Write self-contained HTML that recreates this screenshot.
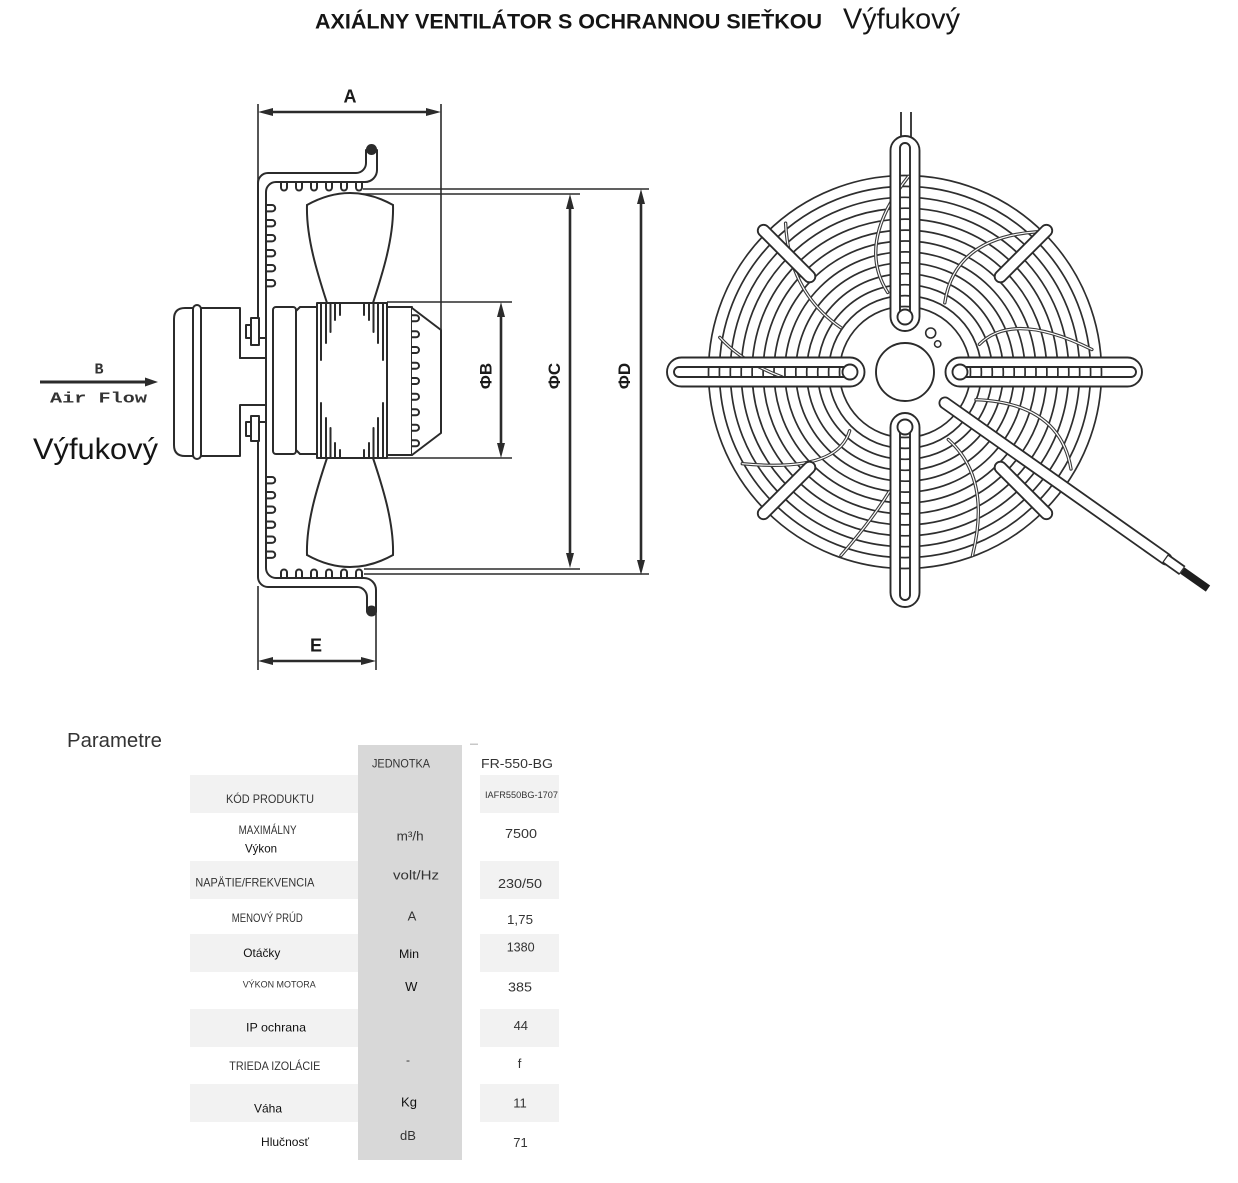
<!DOCTYPE html>
<html><head><meta charset="utf-8"><style>
html,body{margin:0;padding:0;background:#fff;}
svg{display:block;}
</style></head><body>
<svg width="1238" height="1183" viewBox="0 0 1238 1183" xmlns="http://www.w3.org/2000/svg" font-family="'Liberation Sans', Arial, sans-serif">
<rect x="0" y="0" width="1238" height="1183" fill="#fff"/>

<!-- TITLE -->
<text x="315" y="28.5" font-size="21" font-weight="bold" fill="#151515" textLength="507" lengthAdjust="spacingAndGlyphs">AXIÁLNY VENTILÁTOR S OCHRANNOU SIEŤKOU</text>
<text x="843" y="28.5" font-size="29" fill="#151515" textLength="117" lengthAdjust="spacingAndGlyphs">Výfukový</text>

<!-- ============ SIDE VIEW ============ -->
<!-- extension lines -->
<g fill="none" stroke="#2b2b2b" stroke-width="1.6">
  <line x1="258" y1="104" x2="258" y2="184"/>
  <line x1="441" y1="104" x2="441" y2="330"/>
  <line x1="258" y1="586" x2="258" y2="670"/>
  <line x1="376" y1="610" x2="376" y2="670"/>
  <path d="M363,189 H649 M363,194 H580 M364,569 H580 M364,574 H649"/>
  <path d="M387,302 H512 M387,458 H512"/>
</g>

<!-- dimension lines -->
<g stroke="#2b2b2b" stroke-width="2.6" fill="none">
  <line x1="270" y1="112" x2="429" y2="112"/>
  <line x1="270" y1="661" x2="364" y2="661"/>
  <line x1="501" y1="314" x2="501" y2="446"/>
  <line x1="570" y1="206" x2="570" y2="556"/>
  <line x1="641" y1="201" x2="641" y2="563"/>
  <line x1="40" y1="382" x2="147" y2="382" stroke-width="3"/>
</g>
<g fill="#2b2b2b">
  <polygon points="258,112 273,108 273,116"/>
  <polygon points="441,112 426,108 426,116"/>
  <polygon points="258,661 273,657 273,665"/>
  <polygon points="376,661 361,657 361,665"/>
  <polygon points="501,302 497,317 505,317"/>
  <polygon points="501,458 497,443 505,443"/>
  <polygon points="570,194 566,209 574,209"/>
  <polygon points="570,568 566,553 574,553"/>
  <polygon points="641,189 637,204 645,204"/>
  <polygon points="641,575 637,560 645,560"/>
  <polygon points="158,382 145,377.5 145,386.5"/>
</g>

<!-- dimension labels -->
<g font-weight="bold" fill="#1a1a1a" text-anchor="middle">
  <text x="350" y="102.5" font-size="18">A</text>
  <text x="316" y="651.5" font-size="18">E</text>
  <text transform="translate(491.5,376) rotate(-90)" font-size="17">ΦB</text>
  <text transform="translate(560,376) rotate(-90)" font-size="17">ΦC</text>
  <text transform="translate(630,376) rotate(-90)" font-size="17">ΦD</text>
</g>

<!-- air flow -->
<text x="99" y="373.5" font-family="'Liberation Mono', monospace" font-weight="bold" font-size="15" fill="#333" text-anchor="middle">B</text>
<text x="50" y="402.5" font-family="'Liberation Mono', monospace" font-weight="bold" font-size="15" fill="#333" textLength="97" lengthAdjust="spacingAndGlyphs">Air Flow</text>
<text x="33" y="459" font-size="30" fill="#151515" textLength="125" lengthAdjust="spacingAndGlyphs">Výfukový</text>

<g fill="none" stroke="#2b2b2b" stroke-width="2" stroke-linejoin="round" stroke-linecap="round">
  <!-- frame outer contour -->
  <path d="M366,150 V163 A10,10 0 0 1 356,173 H268 A10,10 0 0 0 258,183 V318"/>
  <path d="M258,441 V577 A10,10 0 0 0 268,587 H357 A10,10 0 0 1 367,597 V611"/>
  <!-- frame inner contour -->
  <path d="M377,150 V170 A12,12 0 0 1 365,182 H276 A10,10 0 0 0 266,192 V568 A10,10 0 0 0 276,578 H364 A12,12 0 0 1 376,590 V611"/>

  <!-- fins top -->
  <path d="M281,182 V187.5 a3,3 0 0 0 6,0 V182 M296,182 V187.5 a3,3 0 0 0 6,0 V182 M311,182 V187.5 a3,3 0 0 0 6,0 V182 M326,182 V187.5 a3,3 0 0 0 6,0 V182 M341,182 V187.5 a3,3 0 0 0 6,0 V182 M356,182 V187.5 a3,3 0 0 0 6,0 V182"/>
  <!-- fins bottom -->
  <path d="M281,578 V572.5 a3,3 0 0 1 6,0 V578 M296,578 V572.5 a3,3 0 0 1 6,0 V578 M311,578 V572.5 a3,3 0 0 1 6,0 V578 M326,578 V572.5 a3,3 0 0 1 6,0 V578 M341,578 V572.5 a3,3 0 0 1 6,0 V578 M356,578 V572.5 a3,3 0 0 1 6,0 V578"/>
  <!-- fins left upper -->
  <path d="M266,205 H272 a3.2,3.2 0 0 1 0,6.4 H266 M266,220 H272 a3.2,3.2 0 0 1 0,6.4 H266 M266,235 H272 a3.2,3.2 0 0 1 0,6.4 H266 M266,250 H272 a3.2,3.2 0 0 1 0,6.4 H266 M266,265 H272 a3.2,3.2 0 0 1 0,6.4 H266 M266,280 H272 a3.2,3.2 0 0 1 0,6.4 H266"/>
  <!-- fins left lower -->
  <path d="M266,477 H272 a3.2,3.2 0 0 1 0,6.4 H266 M266,492 H272 a3.2,3.2 0 0 1 0,6.4 H266 M266,506.5 H272 a3.2,3.2 0 0 1 0,6.4 H266 M266,521.5 H272 a3.2,3.2 0 0 1 0,6.4 H266 M266,536.5 H272 a3.2,3.2 0 0 1 0,6.4 H266 M266,551.5 H272 a3.2,3.2 0 0 1 0,6.4 H266"/>

  <!-- motor -->
  <path d="M240,358 V308 H185 Q174,308 174,319 V445 Q174,456 185,456 H240 V405 H266"/>
  <path d="M240,358 H266"/>
  <rect x="193" y="305" width="8" height="154" rx="4" fill="#fff"/>
  <!-- bolts -->
  <rect x="251" y="318" width="8" height="27" fill="#fff"/>
  <rect x="246" y="325" width="5" height="13" fill="#fff"/>
  <rect x="251" y="416" width="8" height="25" fill="#fff"/>
  <rect x="246" y="422" width="5" height="14" fill="#fff"/>
  <path d="M259,338 H266 M259,422 H266"/>

  <!-- blades -->
  <path d="M307,205 Q350,181 393,205"/>
  <path d="M307,205 C306,238 318,275 327,303"/>
  <path d="M393,205 C394,238 382,275 373,303"/>
  <path d="M307,555 Q350,579 393,555"/>
  <path d="M307,555 C306,522 318,485 327,458"/>
  <path d="M393,555 C394,522 382,485 373,458"/>

  <!-- rotor parts -->
  <rect x="273" y="307" width="23" height="147" rx="3" fill="#fff"/>
  <path d="M300,307 H317 V454 H300 L296,450 V311 Z" fill="#fff"/>
  <rect x="317" y="303" width="70" height="155" fill="#fff"/>
  <rect x="387" y="307" width="25" height="148" fill="#fff"/>
  <path d="M412,308 L441,330 V433 L412,455" fill="#fff"/>
  <!-- end cap fins -->
  <path d="M412,315.3 H416 a3,3 0 0 1 0,6 H412 M412,331.3 H416 a3,3 0 0 1 0,6 H412 M412,347 H416 a3,3 0 0 1 0,6 H412 M412,362.7 H416 a3,3 0 0 1 0,6 H412 M412,378 H416 a3,3 0 0 1 0,6 H412 M412,393.7 H416 a3,3 0 0 1 0,6 H412 M412,409.3 H416 a3,3 0 0 1 0,6 H412 M412,424.7 H416 a3,3 0 0 1 0,6 H412 M412,440.3 H416 a3,3 0 0 1 0,6 H412"/>
  <!-- hub hatch lines -->
  <path d="M321,303 V360 M326,303 V343 M330.5,303 V332 M335,303 V320 M340,303 V315 M383,303 V360 M378,303 V343 M373.5,303 V332 M369,303 V320 M364,303 V315"/>
  <path d="M321,458 V403 M326,458 V418 M330.5,458 V428 M335,458 V443 M340,458 V450 M383,458 V403 M378,458 V418 M373.5,458 V428 M369,458 V443 M364,458 V450"/>
</g>
<circle cx="371.5" cy="149.5" r="5.5" fill="#2b2b2b"/>
<circle cx="371.5" cy="611" r="5.5" fill="#2b2b2b"/>

<!-- ============ FRONT VIEW ============ -->
<!-- cable stubs top -->
<path d="M901,112 V137 M911,112 V137" stroke="#2b2b2b" stroke-width="1.8" fill="none"/>
<!-- rings -->
<g fill="none" stroke="#2e2e2e" stroke-width="1.7">
  <circle cx="905" cy="372" r="65.5"/>
  <circle cx="905" cy="372" r="76.4"/>
  <circle cx="905" cy="372" r="87.3"/>
  <circle cx="905" cy="372" r="98.3"/>
  <circle cx="905" cy="372" r="109.2"/>
  <circle cx="905" cy="372" r="120.1"/>
  <circle cx="905" cy="372" r="131"/>
  <circle cx="905" cy="372" r="141.9"/>
  <circle cx="905" cy="372" r="152.9"/>
  <circle cx="905" cy="372" r="163.8"/>
  <circle cx="905" cy="372" r="174.7"/>
  <circle cx="905" cy="372" r="185.6"/>
  <circle cx="905" cy="372" r="196.5"/>
</g>
<!-- blades (thin double lines) -->
<g fill="none" stroke-linecap="round">
  <g stroke="#3a3a3a" stroke-width="3.4">
    <path d="M908.5,176.4 Q855.9,243 887.7,292.4"/>
    <path d="M785.6,223.2 Q788.7,291.9 841,327.8"/>
    <path d="M1036.5,231.8 Q954.3,237.9 944.8,302.8"/>
    <path d="M979.4,344.3 Q1013.2,310.5 1091.9,349.5"/>
    <path d="M719.8,337.4 Q742,362 782,377"/>
    <path d="M976,399.7 Q1059.9,403 1071,469"/>
    <path d="M948.3,439.5 Q991.6,478.5 972.5,555.5"/>
    <path d="M849.6,430.8 Q837.5,472.8 742.3,463.7"/>
    <path d="M889.4,491.4 Q872,520 841,555.5"/>
  </g>
  <g stroke="#fff" stroke-width="1.2">
    <path d="M908.5,176.4 Q855.9,243 887.7,292.4"/>
    <path d="M785.6,223.2 Q788.7,291.9 841,327.8"/>
    <path d="M1036.5,231.8 Q954.3,237.9 944.8,302.8"/>
    <path d="M979.4,344.3 Q1013.2,310.5 1091.9,349.5"/>
    <path d="M719.8,337.4 Q742,362 782,377"/>
    <path d="M976,399.7 Q1059.9,403 1071,469"/>
    <path d="M948.3,439.5 Q991.6,478.5 972.5,555.5"/>
    <path d="M849.6,430.8 Q837.5,472.8 742.3,463.7"/>
    <path d="M889.4,491.4 Q872,520 841,555.5"/>
  </g>
</g>
<!-- arms (white with slot windows) -->
<g fill="#fff" stroke="#2b2b2b" stroke-width="1.9" fill-rule="evenodd">
  <!-- top -->
  <path d="M890.5,150.5 A14.5,14.5 0 0 1 919.5,150.5 V316.5 A14.5,14.5 0 0 1 890.5,316.5 Z M900,148 A5,5 0 0 1 910,148 V317 H900 Z"/>
  <!-- bottom -->
  <path d="M890.5,427.5 A14.5,14.5 0 0 1 919.5,427.5 V592.5 A14.5,14.5 0 0 1 890.5,592.5 Z M900,427 H910 V595 A5,5 0 0 1 900,595 Z"/>
  <!-- left -->
  <path d="M681.5,357.5 H850 A14.5,14.5 0 0 1 850,386.5 H681.5 A14.5,14.5 0 0 1 681.5,357.5 Z M679,367 H850 V377 H679 A5,5 0 0 1 679,367 Z"/>
  <!-- right -->
  <path d="M960,357.5 H1127.5 A14.5,14.5 0 0 1 1127.5,386.5 H960 A14.5,14.5 0 0 1 960,357.5 Z M960,367 H1131 A5,5 0 0 1 1131,377 H960 Z"/>
</g>
<g fill="#fff" stroke="#2b2b2b" stroke-width="1.9">
  <circle cx="905" cy="317" r="7.5"/>
  <circle cx="905" cy="427" r="7.5"/>
  <circle cx="850" cy="372" r="7.5"/>
  <circle cx="960" cy="372" r="7.5"/>
</g>
<!-- diagonal bars -->
<g stroke-linecap="round" fill="none">
  <g stroke="#2b2b2b" stroke-width="13.5">
    <line x1="809.5" y1="276.5" x2="763.6" y2="230.6"/>
    <line x1="1000.5" y1="276.5" x2="1046.4" y2="230.6"/>
    <line x1="809.5" y1="467.5" x2="763.6" y2="513.4"/>
    <line x1="1000.5" y1="467.5" x2="1046.4" y2="513.4"/>
  </g>
  <g stroke="#fff" stroke-width="9.8">
    <line x1="809.5" y1="276.5" x2="763.6" y2="230.6"/>
    <line x1="1000.5" y1="276.5" x2="1046.4" y2="230.6"/>
    <line x1="809.5" y1="467.5" x2="763.6" y2="513.4"/>
    <line x1="1000.5" y1="467.5" x2="1046.4" y2="513.4"/>
  </g>
</g>
<!-- cable -->
<line x1="945" y1="403" x2="1166" y2="559" stroke="#2b2b2b" stroke-width="13" stroke-linecap="round"/>
<line x1="945" y1="403" x2="1166" y2="559" stroke="#fff" stroke-width="9.4" stroke-linecap="round"/>
<line x1="1165" y1="558.3" x2="1182.3" y2="570.5" stroke="#2b2b2b" stroke-width="11"/>
<line x1="1166" y1="559" x2="1181.5" y2="570" stroke="#fff" stroke-width="7.4"/>
<line x1="1182.3" y1="570.5" x2="1208" y2="588.6" stroke="#1e1e1e" stroke-width="7.5"/>
<!-- hub -->
<circle cx="905" cy="372" r="29" fill="#fff" stroke="#2b2b2b" stroke-width="1.9"/>
<circle cx="930.7" cy="333" r="5" fill="#fff" stroke="#2b2b2b" stroke-width="1.6"/>
<circle cx="937.7" cy="344" r="3.2" fill="#fff" stroke="#2b2b2b" stroke-width="1.5"/>

<!-- ============ TABLE ============ -->
<text x="67" y="747" font-size="20" fill="#333" textLength="95" lengthAdjust="spacingAndGlyphs">Parametre</text>
<rect x="358" y="745" width="104" height="415" fill="#d8d8d8"/>
<rect x="470" y="743.5" width="8" height="1.5" fill="#c8c8c8"/>
<g fill="#f2f2f2">
  <rect x="190" y="775" width="168" height="38"/>
  <rect x="480" y="775" width="79" height="38"/>
  <rect x="190" y="861" width="168" height="38"/>
  <rect x="480" y="861" width="79" height="38"/>
  <rect x="190" y="934" width="168" height="38"/>
  <rect x="480" y="934" width="79" height="38"/>
  <rect x="190" y="1009" width="168" height="38"/>
  <rect x="480" y="1009" width="79" height="38"/>
  <rect x="190" y="1084" width="168" height="38"/>
  <rect x="480" y="1084" width="79" height="38"/>
</g>
<g fill="#333" font-size="12">
  <text x="372" y="767.6" font-size="11.5" textLength="58" lengthAdjust="spacingAndGlyphs">JEDNOTKA</text>
  <text x="481" y="768.2" font-size="13" textLength="72" lengthAdjust="spacingAndGlyphs">FR-550-BG</text>

  <text x="226" y="803.2" textLength="88" lengthAdjust="spacingAndGlyphs">KÓD PRODUKTU</text>
  <text x="485" y="798" font-size="9" textLength="73" lengthAdjust="spacingAndGlyphs">IAFR550BG-1707</text>

  <text x="238.6" y="833.8" textLength="58" lengthAdjust="spacingAndGlyphs">MAXIMÁLNY</text>
  <text x="245" y="852.5" fill="#111" textLength="32" lengthAdjust="spacingAndGlyphs">Výkon</text>
  <text x="396.6" y="840.6" font-size="13" textLength="27" lengthAdjust="spacingAndGlyphs">m³/h</text>
  <text x="505" y="838" font-size="13" textLength="32" lengthAdjust="spacingAndGlyphs">7500</text>

  <text x="195.4" y="886.5" textLength="119" lengthAdjust="spacingAndGlyphs">NAPÄTIE/FREKVENCIA</text>
  <text x="393" y="879.7" font-size="13" textLength="46" lengthAdjust="spacingAndGlyphs">volt/Hz</text>
  <text x="498" y="888.2" font-size="13" textLength="44" lengthAdjust="spacingAndGlyphs">230/50</text>

  <text x="231.8" y="922" textLength="71" lengthAdjust="spacingAndGlyphs">MENOVÝ PRÚD</text>
  <text x="412" y="920.5" font-size="13" text-anchor="middle">A</text>
  <text x="507" y="923.9" font-size="13" textLength="26" lengthAdjust="spacingAndGlyphs">1,75</text>

  <text x="243.3" y="957" fill="#111" textLength="37" lengthAdjust="spacingAndGlyphs">Otáčky</text>
  <text x="399" y="958" fill="#111" textLength="20" lengthAdjust="spacingAndGlyphs">Min</text>
  <text x="506.7" y="951.7" font-size="13" textLength="28" lengthAdjust="spacingAndGlyphs">1380</text>

  <text x="242.7" y="987.7" font-size="9.5" textLength="73" lengthAdjust="spacingAndGlyphs">VÝKON MOTORA</text>
  <text x="411.3" y="991" font-size="13" fill="#111" text-anchor="middle">W</text>
  <text x="508" y="991.7" font-size="13" textLength="24" lengthAdjust="spacingAndGlyphs">385</text>

  <text x="246" y="1031.7" fill="#111" textLength="60" lengthAdjust="spacingAndGlyphs">IP ochrana</text>
  <text x="520.8" y="1030" font-size="13" text-anchor="middle">44</text>

  <text x="229.3" y="1070" textLength="91" lengthAdjust="spacingAndGlyphs">TRIEDA IZOLÁCIE</text>
  <text x="408" y="1064" font-size="12" text-anchor="middle">-</text>
  <text x="519.5" y="1068" font-size="13" text-anchor="middle">f</text>

  <text x="254" y="1112.7" fill="#111" textLength="28" lengthAdjust="spacingAndGlyphs">Váha</text>
  <text x="409" y="1106.7" font-size="13" fill="#111" text-anchor="middle">Kg</text>
  <text x="520" y="1107.7" font-size="13" text-anchor="middle">11</text>

  <text x="261" y="1146" fill="#111" textLength="48" lengthAdjust="spacingAndGlyphs">Hlučnosť</text>
  <text x="408" y="1140" font-size="13" text-anchor="middle">dB</text>
  <text x="520.5" y="1147" font-size="13" text-anchor="middle">71</text>
</g>
</svg>
</body></html>
